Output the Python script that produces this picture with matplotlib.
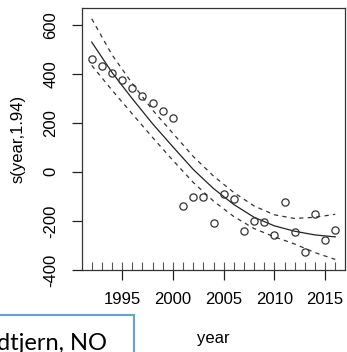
import matplotlib
matplotlib.use("Agg")
import matplotlib.pyplot as plt
from matplotlib.patches import Rectangle

plt.rcParams['font.family'] = ['Liberation Sans', 'DejaVu Sans']

# partial residuals of s(year)
years = [1992, 1993, 1994, 1995, 1996, 1997, 1998, 1999, 2000, 2001, 2002, 2003,
         2004, 2005, 2006, 2007, 2008, 2009, 2010, 2011, 2012, 2013, 2014, 2015, 2016]
resid = [461, 433, 403, 373, 342, 311, 281, 250, 221, -138, -101, -104,
         -208, -92, -112, -242, -200, -204, -258, -124, -246, -327, -172, -278, -238]

fit_years = [1992, 1994, 1996, 1998, 2000, 2002, 2004, 2006, 2008, 2010, 2012, 2014, 2016]
fit = [529, 405, 298, 196, 102, 10, -68, -133, -185, -220, -242, -257, -265]
upper = [624, 477, 360, 252, 157, 63, -17, -84, -139, -175, -190, -185, -173]
lower = [434, 333, 236, 140, 47, -43, -119, -182, -231, -265, -294, -329, -357]

xticks = [1995, 2000, 2005, 2010, 2015]
yticks = [-400, -200, 0, 200, 400, 600]

W, H = 347, 352
fig = plt.figure(figsize=(W / 100, H / 100), dpi=100)
ax = fig.add_axes([82 / W, 1 - 270 / H, 263 / W, 262 / H])

ink = '#222222'
ax.plot(fit_years, fit, color=ink, lw=0.9)
ax.plot(fit_years, upper, color='#333333', lw=0.9, dashes=(3.4, 3.4))
ax.plot(fit_years, lower, color='#333333', lw=0.9, dashes=(3.4, 3.4))
ax.plot(years, resid, 'o', ms=5.2, mfc='none', mec='#333333', mew=0.9)

# rug
ax.vlines(years, 0, 0.03, transform=ax.get_xaxis_transform(), color='#555555', lw=0.8)

ax.set_xlim(1991.04, 2016.96)
ax.set_ylim(-400, 668)

ax.set_xticks(xticks)
ax.set_xticklabels([str(t) for t in xticks], fontsize=12)
ax.set_yticks(yticks)
ax.set_yticklabels([str(t) for t in yticks], fontsize=12, rotation=90, va='center')
ax.tick_params(axis='x', length=7, width=0.9, pad=9, color=ink)
ax.tick_params(axis='y', length=7, width=0.9, pad=10, color=ink)

for s in ax.spines.values():
    s.set_color('#333333')
    s.set_linewidth(0.9)

ax.set_xlabel('year', fontsize=12, va='center')
ax.xaxis.set_label_coords(0.5, -0.262)
ax.set_ylabel('s(year,1.94)', fontsize=12, va='center')
ax.yaxis.set_label_coords(-0.243, 0.5)

# cropped caption box from the slide
fig.patches.append(Rectangle((-0.02, -0.05), 134 / W + 0.02, 0.05 + 1 - 315 / H,
                             transform=fig.transFigure, fill=False,
                             edgecolor='#6a9fd6', lw=1.5))
fig.text(-3 / W, 1 - 350 / H, 'dtjern, NO', fontsize=17, family=['Lato', 'DejaVu Sans'],
         ha='left', va='baseline', color='black')

fig.savefig('out.png', dpi=100)
